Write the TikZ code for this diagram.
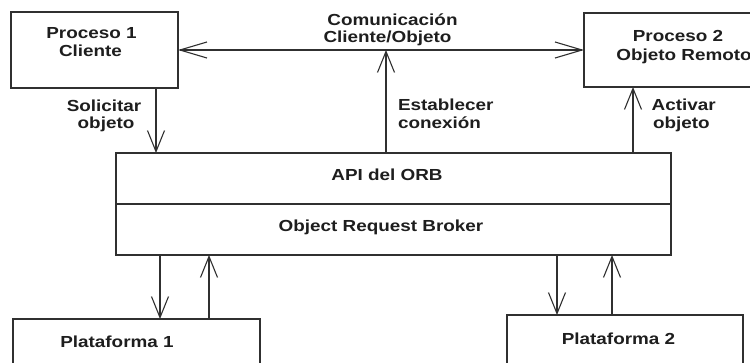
\documentclass[tikz,border=0pt]{standalone}
\usepackage{fontspec}
\setmainfont{Liberation Sans}[FakeStretch=1.18]
\usetikzlibrary{arrows.meta}
\definecolor{ink}{HTML}{1E1E1E}
\definecolor{wire}{HTML}{303030}
\begin{document}
\begin{tikzpicture}[x=1pt,y=-1pt,
  boxn/.style={draw=wire,line width=1.3pt,rectangle,inner sep=0pt,outer sep=0pt},
  lbl/.style={inner sep=0pt,outer sep=0pt,text=ink,font=\fontsize{16}{17}\selectfont\bfseries},
  vlink/.style={draw=wire,line width=1.3pt,-{Straight Barb[length=21pt,width=17pt,line width=1.1pt]}},
  hlink/.style={draw=wire,line width=1.3pt,{Straight Barb[length=27pt,width=16pt,line width=1.1pt]}-{Straight Barb[length=27pt,width=16pt,line width=1.1pt]}}]
\fill[white] (0,0) rectangle (750,362);
\useasboundingbox (0,0) rectangle (750,362);
\clip (0,0) rectangle (750,362);

% boxes
\node[boxn,minimum width=167pt,minimum height=76pt] (p1) at (94.5,50) {};
\node[boxn,minimum width=196pt,minimum height=74pt] (p2) at (682,50) {};
\node[boxn,minimum width=555pt,minimum height=51pt] (api) at (393.5,178.5) {};
\node[boxn,minimum width=555pt,minimum height=51pt] (orb) at (393.5,229.5) {};
\node[boxn,minimum width=247pt,minimum height=81pt] (pl1) at (136.5,359.5) {};
\node[boxn,minimum width=236pt,minimum height=85pt] (pl2) at (625,357.5) {};

% texts
\node[lbl,anchor=base] (tp1a) at (91.5,38.3) {Proceso 1};
\node[lbl,anchor=base] (tp1b) at (90.5,56) {Cliente};
\node[lbl,anchor=base] (tp2a) at (678,41.7) {Proceso 2};
\node[lbl,anchor=base] (tp2b) at (684,60.5) {Objeto Remoto};
\node[lbl,anchor=base] (tca) at (392.5,25.7) {Comunicación};
\node[lbl,anchor=base] (tcb) at (387.5,42.3) {Cliente/Objeto};
\node[lbl,anchor=base] (tsa) at (104,111) {Solicitar};
\node[lbl,anchor=base] (tsb) at (106,128) {objeto};
\node[lbl,anchor=base west] (tea) at (398,110) {Establecer};
\node[lbl,anchor=base west] (teb) at (398,128) {conexión};
\node[lbl,anchor=base west] (taa) at (651.7,110) {Activar};
\node[lbl,anchor=base west] (tab) at (653,128) {objeto};
\node[lbl,anchor=base] (tapi) at (387,180.7) {API del ORB};
\node[lbl,anchor=base] (torb) at (381,231.7) {Object Request Broker};
\node[lbl,anchor=base] (tpl1) at (117,347.7) {Plataforma 1};
\node[lbl,anchor=base] (tpl2) at (618.5,344.3) {Plataforma 2};

% connector positions
\coordinate (xs) at (156,0);
\coordinate (ce) at (386,50);
\coordinate (xa) at (633,0);
\coordinate (xd1) at (160,0);
\coordinate (xu1) at (209,0);
\coordinate (xd2) at (557,0);
\coordinate (xu2) at (612,0);

% connectors
\draw[hlink] (p1.east) -- (p2.west);
\draw[vlink] (p1.south -| xs) -- (api.north -| xs);
\draw[vlink] (api.north -| ce) -- (ce);
\draw[vlink] (api.north -| xa) -- (p2.south -| xa);
\draw[vlink] (orb.south -| xd1) -- (pl1.north -| xd1);
\draw[vlink] (pl1.north -| xu1) -- (orb.south -| xu1);
\draw[vlink] (orb.south -| xd2) -- (pl2.north -| xd2);
\draw[vlink] (pl2.north -| xu2) -- (orb.south -| xu2);
\end{tikzpicture}
\end{document}
